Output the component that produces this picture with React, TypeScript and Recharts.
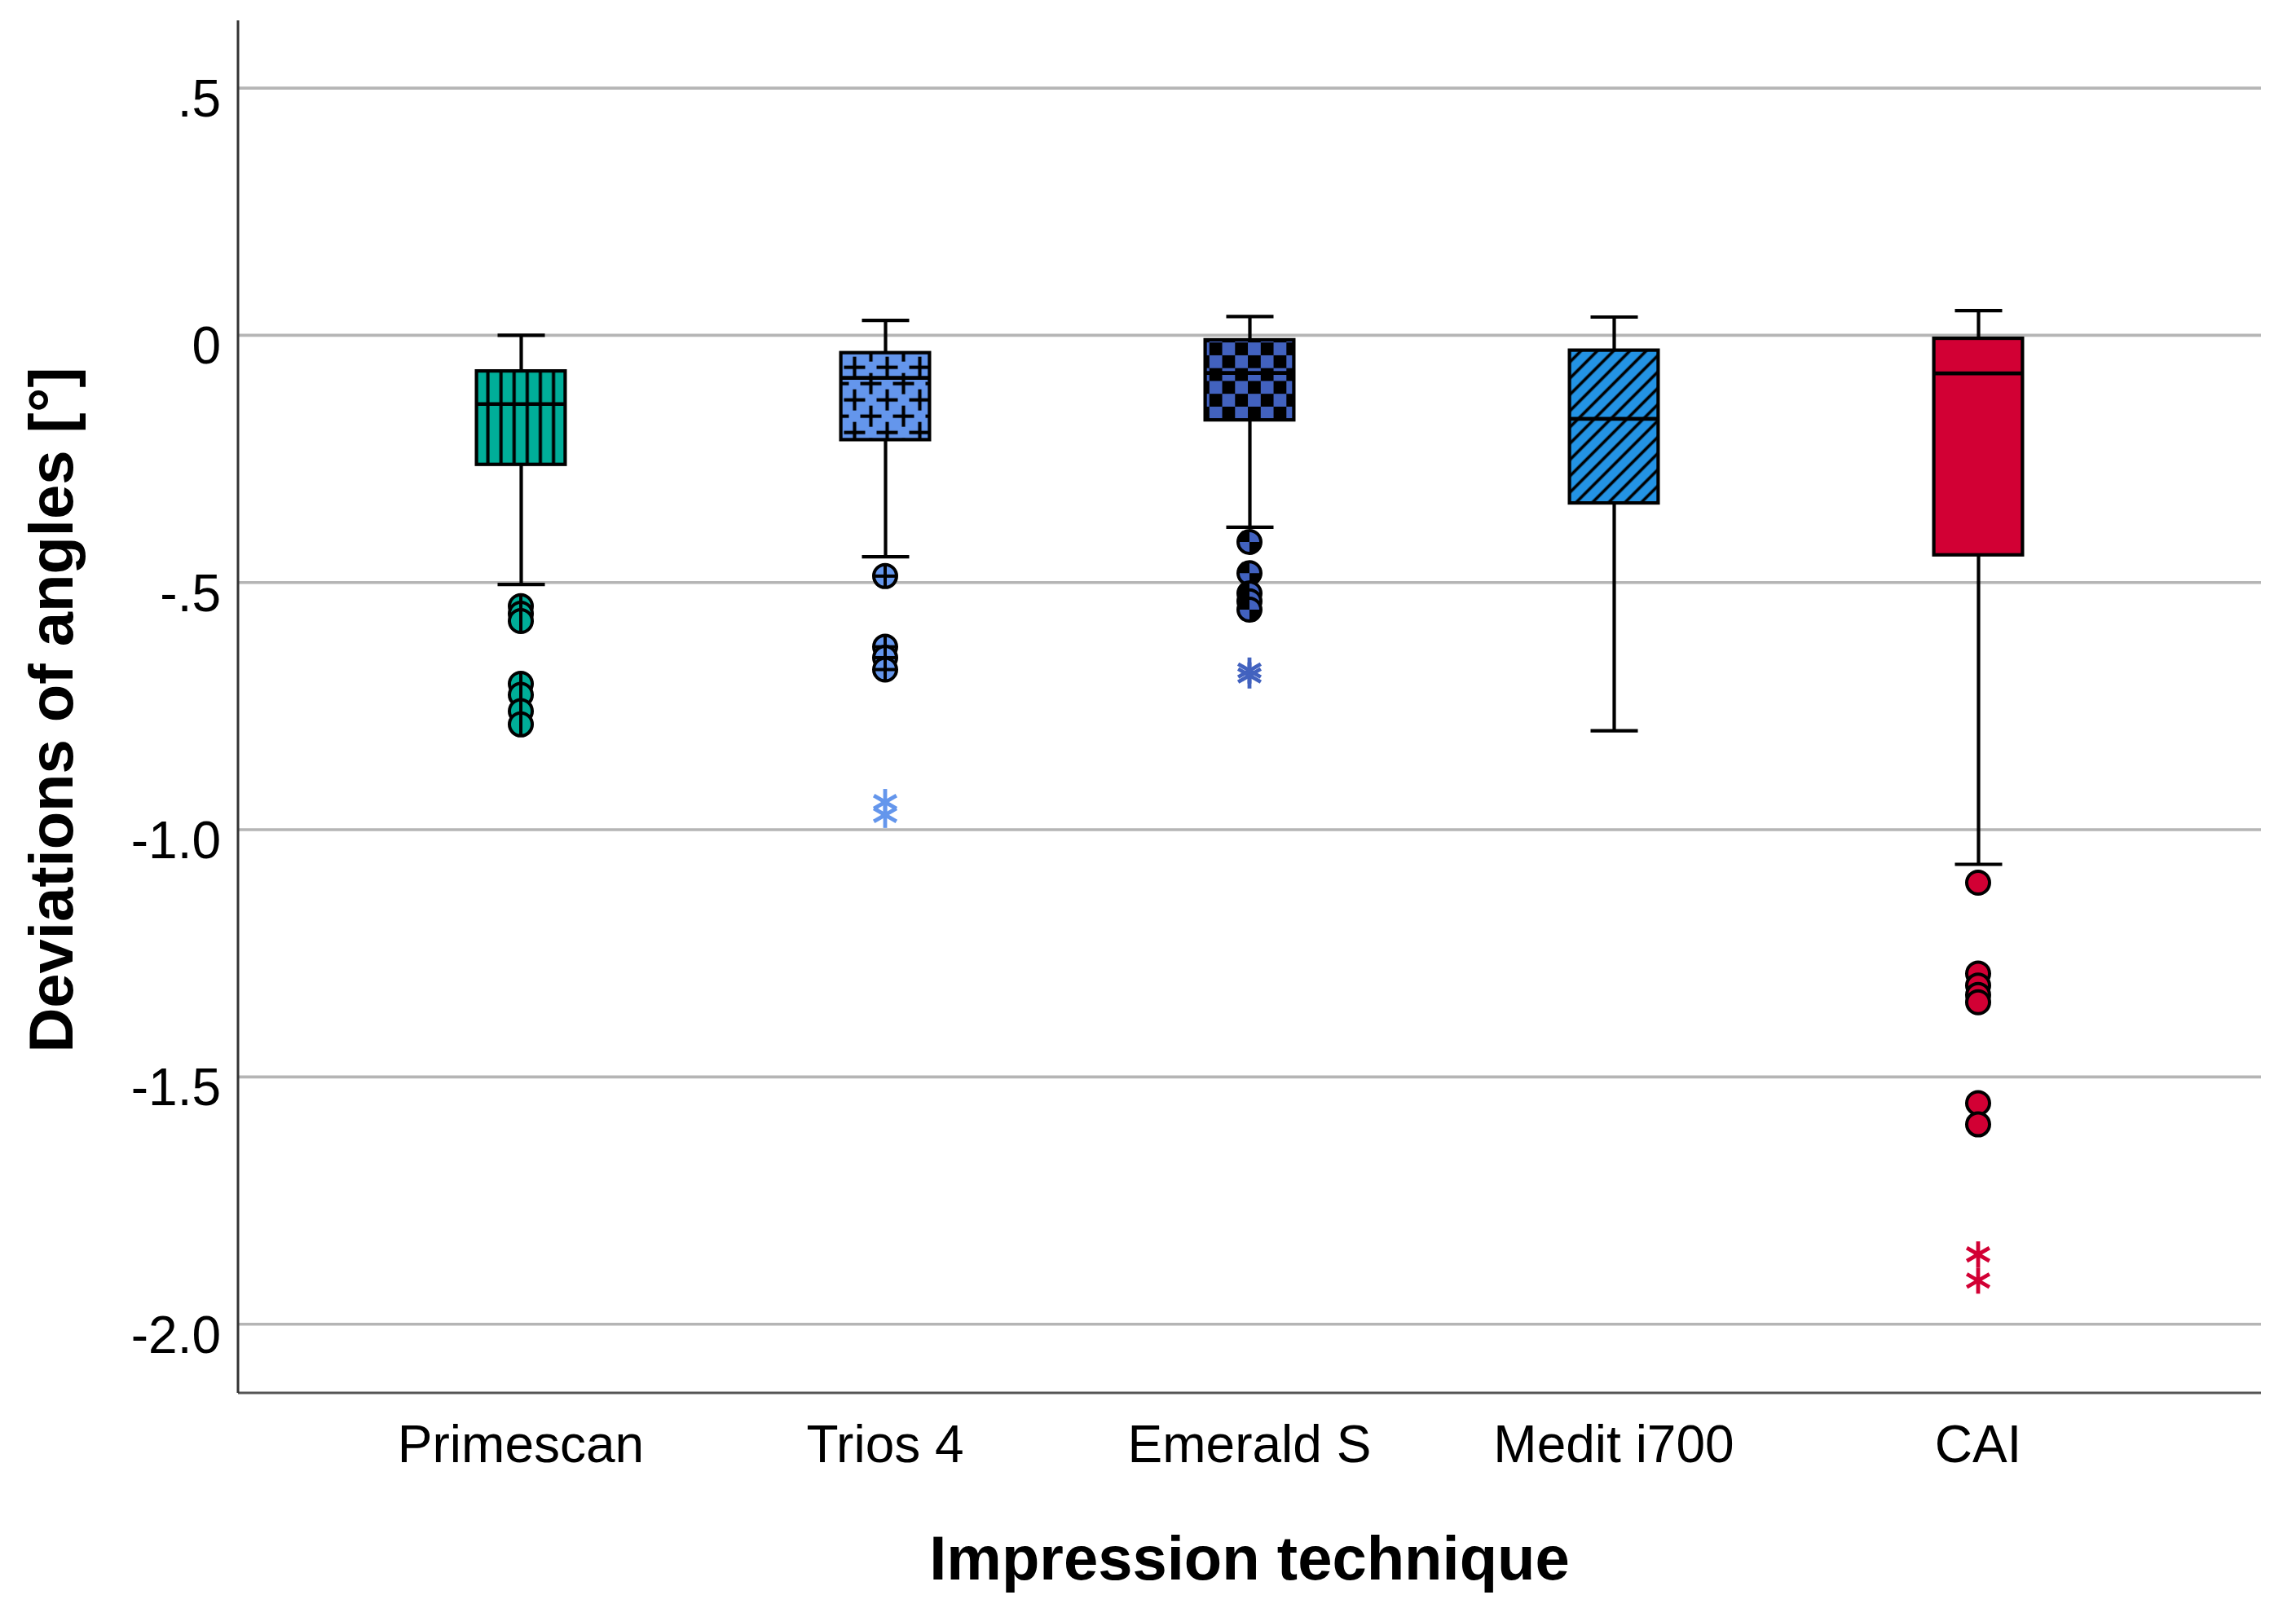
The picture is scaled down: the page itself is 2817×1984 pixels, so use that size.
import React from 'react';
import { ComposedChart, Bar, Line, XAxis, YAxis, CartesianGrid, Label } from 'recharts';

// ---------- data ----------
const categories = ['Primescan', 'Trios 4', 'Emerald S', 'Medit i700', 'CAI'];
const whiskerLow = [-0.504, -0.448, -0.388, -0.8, -1.07];
const q1 = [-0.261, -0.211, -0.171, -0.339, -0.444];
const medians = [-0.139, -0.086, -0.076, -0.169, -0.077];
const q3 = [-0.072, -0.035, -0.009, -0.03, -0.006];
const whiskerHigh = [0.0, 0.03, 0.038, 0.037, 0.05];
const outlierValues = [
  [-0.548, -0.563, -0.578, -0.705, -0.727, -0.76, -0.787],
  [-0.487, -0.63, -0.652, -0.676],
  [-0.418, -0.481, -0.522, -0.538, -0.555],
  [],
  [-1.107, -1.291, -1.315, -1.334, -1.349, -1.553, -1.596],
];
const extremeValues = [[], [-0.944, -0.97], [-0.678, -0.688], [], [-1.859, -1.912]];
const yTicks = [0.5, 0, -0.5, -1.0, -1.5, -2.0];
const yTickLabels = ['.5', '0', '-.5', '-1.0', '-1.5', '-2.0'];
const yDomain = [-2.139, 0.637];
const xTitle = 'Impression technique';
const yTitle = 'Deviations of angles [°]';

// ---------- styles ----------
const colors = ['#00AE99', '#6496EC', '#4262BF', '#2393E4', '#D20034'];
const FONT = '"Liberation Sans", Arial, Helvetica, sans-serif';
const W = 2817;
const H = 1984;
const Y_AXIS_W = 292;
const X_AXIS_H = 275;
const BOX_W = 113;
const CAP_W = 58;
const LW = 4.2;
const R = 14;

const data = categories.map((name, i) => ({
  name,
  idx: i,
  whisker: [whiskerLow[i], whiskerHigh[i]],
  box: [q1[i], q3[i]],
  median: medians[i],
  outliers: outlierValues[i],
  extremes: extremeValues[i],
}));
const maxOutliers = Math.max(...outlierValues.map((o) => o.length));
const maxExtremes = Math.max(...extremeValues.map((o) => o.length));

const norm = (y: number, h: number) => ({ top: Math.min(y, y + h), h: Math.abs(h) });

const Plus = ({ cx, cy, a, w = 4 }: any) => (
  <g stroke="#000" strokeWidth={w}>
    <line x1={cx - a} y1={cy} x2={cx + a} y2={cy} />
    <line x1={cx} y1={cy - a} x2={cx} y2={cy + a} />
  </g>
);

const PatternDef = ({ i, left, top }: any) => {
  const c = colors[i];
  if (i === 0) {
    const w = 16.1;
    return (
      <pattern id="pat0" patternUnits="userSpaceOnUse" x={left + w / 2} y={top} width={w} height={40}>
        <rect x={0} y={0} width={w} height={40} fill={c} />
        <line x1={w / 2} y1={0} x2={w / 2} y2={40} stroke="#000" strokeWidth={4} />
      </pattern>
    );
  }
  if (i === 1) {
    const centers = [
      [10, 10], [50, 10], [10, 50], [-30, 10], [10, -30],
      [30, 30], [-10, 30], [30, -10], [70, 30], [30, 70],
    ];
    return (
      <pattern id="pat1" patternUnits="userSpaceOnUse" x={left + 9} y={top + 8} width={40} height={40}>
        <rect x={0} y={0} width={40} height={40} fill={c} />
        {centers.map(([px, py], k) => (
          <Plus key={k} cx={px} cy={py} a={13} w={4.2} />
        ))}
      </pattern>
    );
  }
  if (i === 2) {
    const s = 15.75;
    return (
      <pattern id="pat2" patternUnits="userSpaceOnUse" x={left + 7.3} y={top + 3.3} width={2 * s} height={2 * s}>
        <rect x={0} y={0} width={2 * s} height={2 * s} fill={c} />
        <rect x={0} y={0} width={s} height={s} fill="#000" />
        <rect x={s} y={s} width={s} height={s} fill="#000" />
      </pattern>
    );
  }
  if (i === 3) {
    const s = 14.14;
    return (
      <pattern id="pat3" patternUnits="userSpaceOnUse" x={left} y={top} width={s} height={s} patternTransform="rotate(45)">
        <rect x={-1} y={-1} width={s + 2} height={s + 2} fill={c} />
        <line x1={s / 2} y1={-1} x2={s / 2} y2={s + 1} stroke="#000" strokeWidth={3.6} />
      </pattern>
    );
  }
  return null;
};

const BoxShape = (props: any) => {
  const { x, y, width, height, payload, index } = props;
  if (x == null || y == null) return <g />;
  const i = payload && payload.idx != null ? payload.idx : index;
  const { top, h } = norm(y, height);
  const fill = i === 4 ? colors[4] : `url(#pat${i})`;
  return (
    <g>
      <defs>
        <PatternDef i={i} left={x} top={top} />
      </defs>
      <rect
        x={x + LW / 2}
        y={top}
        width={width - LW}
        height={h}
        fill={fill}
        stroke="#000"
        strokeWidth={LW}
      />
    </g>
  );
};

const WhiskerShape = (props: any) => {
  const { x, y, width, height } = props;
  if (x == null || y == null) return <g />;
  const { top, h } = norm(y, height);
  const cx = x + width / 2;
  return (
    <g stroke="#000" strokeWidth={LW}>
      <line x1={cx} y1={top} x2={cx} y2={top + h} />
      <line x1={x} y1={top} x2={x + width} y2={top} />
      <line x1={x} y1={top + h} x2={x + width} y2={top + h} />
    </g>
  );
};

const MedianDot = (props: any) => {
  const { cx, cy } = props;
  if (cx == null || cy == null || isNaN(cy)) return <g />;
  return <line x1={cx - BOX_W / 2 + 2} y1={cy} x2={cx + BOX_W / 2 - 2} y2={cy} stroke="#000" strokeWidth={LW + 0.5} />;
};

const quadrant = (cx: number, cy: number, r: number, q: number) => {
  if (q === 0) return `M${cx},${cy} L${cx - r},${cy} A${r},${r} 0 0 1 ${cx},${cy - r} Z`;
  return `M${cx},${cy} L${cx + r},${cy} A${r},${r} 0 0 1 ${cx},${cy + r} Z`;
};

const OutlierDot = (props: any) => {
  const { cx, cy, payload } = props;
  if (cx == null || cy == null || isNaN(cy) || !payload) return <g />;
  const i = payload.idx;
  const c = colors[i];
  return (
    <g>
      <circle cx={cx} cy={cy} r={R} fill={c} />
      {i === 0 && <line x1={cx} y1={cy - R} x2={cx} y2={cy + R} stroke="#000" strokeWidth={4} />}
      {i === 1 && <Plus cx={cx} cy={cy} a={R} w={4} />}
      {i === 2 && (
        <g fill="#000">
          <path d={quadrant(cx, cy, R, 0)} />
          <path d={quadrant(cx, cy, R, 1)} />
        </g>
      )}
      <circle cx={cx} cy={cy} r={R} fill="none" stroke="#000" strokeWidth={4} />
    </g>
  );
};

const ExtremeDot = (props: any) => {
  const { cx, cy, payload } = props;
  if (cx == null || cy == null || isNaN(cy) || !payload) return <g />;
  const c = colors[payload.idx];
  const a = 16;
  const dx = a * Math.cos(Math.PI / 6);
  const dy = a * Math.sin(Math.PI / 6);
  return (
    <g stroke={c} strokeWidth={4.8} strokeLinecap="butt">
      <line x1={cx} y1={cy - a} x2={cx} y2={cy + a} />
      <line x1={cx - dx} y1={cy - dy} x2={cx + dx} y2={cy + dy} />
      <line x1={cx - dx} y1={cy + dy} x2={cx + dx} y2={cy - dy} />
    </g>
  );
};

const YTick = (props: any) => {
  const { y, payload } = props;
  const k = yTicks.indexOf(payload.value);
  return (
    <text x={Y_AXIS_W - 21} y={y + 35} textAnchor="end" fontSize={64} fontFamily={FONT} fill="#000">
      {k >= 0 ? yTickLabels[k] : String(payload.value)}
    </text>
  );
};

const XTick = (props: any) => {
  const { x, payload } = props;
  return (
    <text x={x} y={H - X_AXIS_H + 85} textAnchor="middle" fontSize={64} fontFamily={FONT} fill="#000">
      {payload.value}
    </text>
  );
};

const XTitle = (props: any) => {
  const vb = props.viewBox || {};
  const cx = (vb.x ?? Y_AXIS_W) + (vb.width ?? 0) / 2;
  return (
    <text x={cx} y={H - X_AXIS_H + 229} textAnchor="middle" fontSize={76} fontWeight="bold" fontFamily={FONT} fill="#000">
      {xTitle}
    </text>
  );
};

const YTitle = (props: any) => {
  const vb = props.viewBox || {};
  const cy = (vb.y ?? 25) + (vb.height ?? 0) / 2 + 4;
  const bx = 89;
  return (
    <text
      x={bx}
      y={cy}
      transform={`rotate(-90, ${bx}, ${cy})`}
      textAnchor="middle"
      fontSize={76}
      fontWeight="bold"
      fontFamily={FONT}
      fill="#000"
    >
      {yTitle}
    </text>
  );
};

const xPad = { left: 123.5, right: 123.5 };

export default function App() {
  return (
    <div style={{ width: W, height: H, background: '#fff' }}>
      <style>{'body{margin:0;background:#fff;}'}</style>
      <ComposedChart width={W} height={H} data={data} margin={{ top: 25, right: 43, bottom: 0, left: 0 }}>
        <CartesianGrid vertical={false} horizontalValues={yTicks} stroke="#B5B5B5" strokeWidth={3.6} />
        <XAxis
          dataKey="name"
          type="category"
          height={X_AXIS_H}
          padding={xPad}
          tickLine={false}
          tickSize={0}
          axisLine={{ stroke: '#555', strokeWidth: 3 }}
          tick={<XTick />}
          interval={0}
        >
          <Label content={<XTitle />} />
        </XAxis>
        <XAxis xAxisId="w" dataKey="name" type="category" padding={xPad} hide />
        <YAxis
          type="number"
          domain={yDomain}
          ticks={yTicks}
          interval={0}
          width={Y_AXIS_W}
          tickLine={false}
          tickSize={0}
          axisLine={{ stroke: '#333', strokeWidth: 3 }}
          tick={<YTick />}
          allowDataOverflow
        >
          <Label content={<YTitle />} />
        </YAxis>
        <Bar
          xAxisId="w"
          dataKey="whisker"
          barSize={CAP_W}
          shape={<WhiskerShape />}
          isAnimationActive={false}
          legendType="none"
        />
        <Bar dataKey="box" barSize={BOX_W} shape={<BoxShape />} isAnimationActive={false} legendType="none" />
        <Line
          dataKey="median"
          stroke="none"
          dot={<MedianDot />}
          activeDot={false}
          isAnimationActive={false}
          legendType="none"
        />
        {Array.from({ length: maxOutliers }).map((_, k) => (
          <Line
            key={`o${k}`}
            dataKey={(d: any) => (d.outliers[k] !== undefined ? d.outliers[k] : null)}
            stroke="none"
            dot={<OutlierDot />}
            activeDot={false}
            isAnimationActive={false}
            legendType="none"
          />
        ))}
        {Array.from({ length: maxExtremes }).map((_, k) => (
          <Line
            key={`e${k}`}
            dataKey={(d: any) => (d.extremes[k] !== undefined ? d.extremes[k] : null)}
            stroke="none"
            dot={<ExtremeDot />}
            activeDot={false}
            isAnimationActive={false}
            legendType="none"
          />
        ))}
      </ComposedChart>
    </div>
  );
}
